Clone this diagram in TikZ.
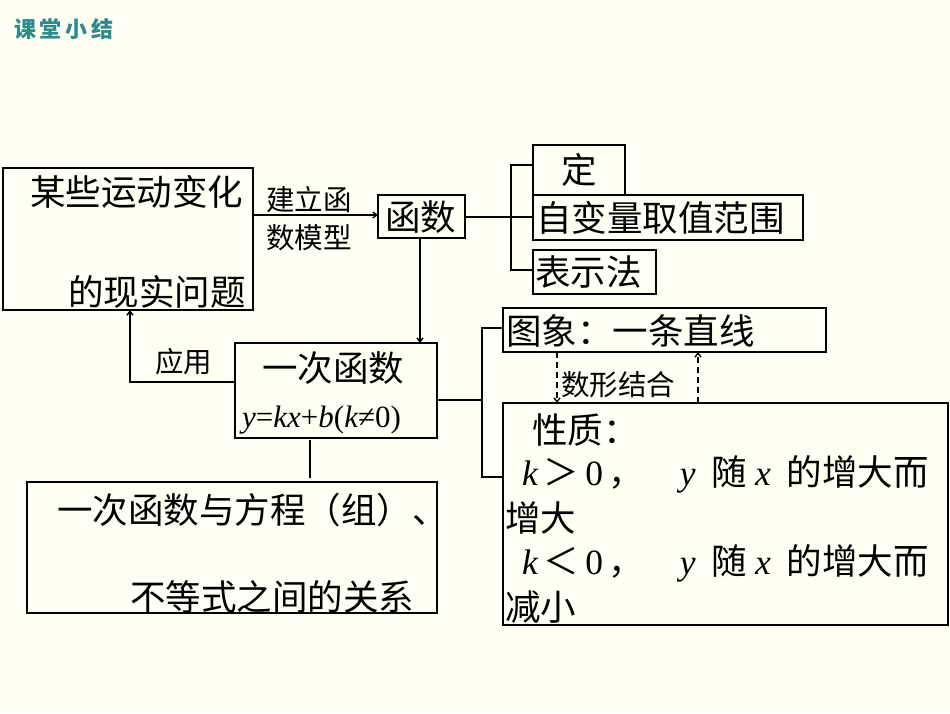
\documentclass[tikz,border=0pt]{standalone}
\usepackage{fontspec}
\setmainfont{Liberation Serif}
\newfontfamily\cjk{Noto Sans CJK SC}
\newfontfamily\rmi{Liberation Serif}
\usetikzlibrary{arrows.meta}
\definecolor{bg}{HTML}{FFFFF3}
\definecolor{teal1}{HTML}{2E8B8B}
\newcommand{\vi}[1]{{\rmi\itshape #1}}
\begin{document}
\begin{tikzpicture}[x=1pt,y=-1pt,
  bx/.style={draw,line width=1.2pt},
  t/.style={font=\cjk\fontsize{35.5}{40}\selectfont,inner sep=0,anchor=west},
  s/.style={font=\cjk\fontsize{28.5}{32}\selectfont,inner sep=0,anchor=west},
  ln/.style={line width=1.8pt},
  ar/.style={line width=1.4pt,-{Straight Barb[length=4pt,width=6pt]}},
  da/.style={line width=1.4pt,dash pattern=on 6pt off 4pt,-{Straight Barb[length=4pt,width=6pt]}}]
\fill[bg] (0,0) rectangle (950,713);
\useasboundingbox (0,0) rectangle (950,713);
\node[anchor=west,inner sep=0,text=teal1,font=\cjk\bfseries\fontsize{22}{26}\selectfont] (title) at (14,29) {课\,堂\,小\,结};
% boxes
\draw[bx] (3,168) rectangle (253,310);
\node[t] (a1) at (30,192) {某些运动变化};
\node[t] (a2) at (68,292) {的现实问题};
\node[s] (l1) at (266,200) {建立函};
\node[s] (l2) at (266,238) {数模型};
\draw[bx] (378,195) rectangle (465,238);
\node[t] (hs) at (385,217) {函数};
\draw[bx] (533,145) rectangle (625,195);
\node[t] (d) at (561,170) {定};
\draw[bx] (533,195) rectangle (803,240);
\node[t] (zb) at (536,218) {自变量取值范围};
\draw[bx] (533,250) rectangle (656,294);
\node[t] (bs) at (535,272) {表示法};
\draw[bx] (235,343) rectangle (437,438);
\node[t] (yc) at (262,368) {一次函数};
\node[inner sep=0,anchor=west,font=\rmi\fontsize{31}{34}\selectfont] (eq) at (242,420) {\vi{y}=\vi{kx}+\vi{b}(\vi{k}≠0)};
\node[s] (yy) at (155,362) {应用};
\draw[bx] (27,482) rectangle (437,613);
\node[t] (f1) at (57,510) {一次函数与方程（组）、};
\node[t] (f2) at (130,597) {不等式之间的关系};
\draw[bx] (503,308) rectangle (826,352);
\node[t] (tx) at (506,331) {图象：一条直线};
\draw[bx] (503,403) rectangle (948,625);
\node[t] (xz) at (532,430) {性质：};
\node[t] (p1) at (522,474) {\vi{k}\,＞\,{\rmi 0}\,，\quad\vi{y}\ \ 随\ \vi{x}\ \ 的增大而};
\node[t] (p2) at (505,518) {增大};
\node[t] (p3) at (522,563) {\vi{k}\,＜\,{\rmi 0}\,，\quad\vi{y}\ \ 随\ \vi{x}\ \ 的增大而};
\node[t] (p4) at (505,607) {减小};
\node[s] (sx) at (561,385) {数形结合};
% connectors
\draw[ar] (253,215) -- (378,215);
\draw[ln] (465,217) -- (533,217);
\draw[ln] (533,165) -- (511,165) -- (511,270) -- (533,270);
\draw[ar] (420,238) -- (420,343);
\draw[ar] (235,382) -- (130,382) -- (130,310);
\draw[ln] (310,440) -- (310,478);
\draw[ln] (437,400) -- (482,400);
\draw[ln] (503,328) -- (482,328) -- (482,477) -- (503,477);
\draw[da] (557,352) -- (557,403);
\draw[da] (698,403) -- (698,352);
\end{tikzpicture}
\end{document}
